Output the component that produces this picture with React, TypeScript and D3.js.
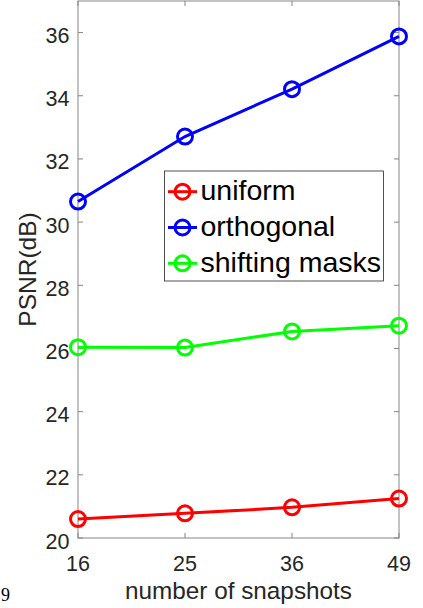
import React from "react";
import * as d3 from "d3";

const snapshots = ["16", "25", "36", "49"];
const uniform = [20.6, 20.78, 20.97, 21.25];
const orthogonal = [30.65, 32.71, 34.21, 35.88];
const shiftingMasks = [26.04, 26.03, 26.54, 26.72];
const yTicks = [20, 22, 24, 26, 28, 30, 32, 34, 36];

const seriesNames = ["uniform", "orthogonal", "shifting masks"];
const seriesColors = ["#ff0000", "#0000ff", "#00ff00"];
const seriesValues = [uniform, orthogonal, shiftingMasks];

const W = 423;
const H = 608;
const left = 78;
const right = 399;
const top = 1;
const bottom = 538;
const font = "'Liberation Sans', Arial, Helvetica, sans-serif";

export default function App() {
  const x = d3.scalePoint<string>().domain(snapshots).range([left, right]);
  const y = d3.scaleLinear().domain([20, 37]).range([bottom, top]);
  const line = d3
    .line<number>()
    .x((_, i) => x(snapshots[i]) as number)
    .y((v) => y(v));

  const axisColor = "#858585";
  const tickLen = 5;

  return (
    <svg
      width={W}
      height={H}
      style={{ position: "absolute", left: 0, top: 0, background: "#fff" }}
    >
      <rect x={0} y={0} width={W} height={H} fill="#fff" />

      {/* ticks on all four sides, pointing inward */}
      {yTicks.map((t) => (
        <g key={"y" + t}>
          <line x1={left} x2={left + tickLen} y1={y(t)} y2={y(t)} stroke={axisColor} />
          <line x1={right} x2={right - tickLen} y1={y(t)} y2={y(t)} stroke={axisColor} />
          <text
            x={69.5}
            y={y(t) + 10.5}
            textAnchor="end"
            fontFamily={font}
            fontSize={21.5}
            fill="#262626"
          >
            {t}
          </text>
        </g>
      ))}
      {snapshots.map((s) => (
        <g key={"x" + s}>
          <line x1={x(s)} x2={x(s)} y1={bottom} y2={bottom - tickLen} stroke={axisColor} />
          <line x1={x(s)} x2={x(s)} y1={top} y2={top + tickLen} stroke={axisColor} />
          <text
            x={x(s)}
            y={570.5}
            textAnchor="middle"
            fontFamily={font}
            fontSize={21.5}
            fill="#262626"
          >
            {s}
          </text>
        </g>
      ))}

      <rect
        x={left}
        y={top}
        width={right - left}
        height={bottom - top}
        fill="none"
        stroke={axisColor}
        strokeWidth={1}
      />

      {seriesValues.map((vals, k) => (
        <g key={seriesNames[k]}>
          <path d={line(vals) || ""} fill="none" stroke={seriesColors[k]} strokeWidth={3} />
          {vals.map((v, i) => (
            <circle
              key={i}
              cx={x(snapshots[i])}
              cy={y(v)}
              r={7.5}
              fill="none"
              stroke={seriesColors[k]}
              strokeWidth={3}
            />
          ))}
        </g>
      ))}

      {/* legend */}
      <rect x={164.5} y={171} width={219} height={110} fill="#fff" stroke="#262626" strokeWidth={0.8} />
      {seriesNames.map((name, k) => {
        const cy = 191.7 + k * 35.8;
        return (
          <g key={"leg" + name}>
            <line x1={168} x2={197} y1={cy} y2={cy} stroke={seriesColors[k]} strokeWidth={3} />
            <circle cx={182.5} cy={cy} r={7.5} fill="none" stroke={seriesColors[k]} strokeWidth={3} />
            <text x={200.5} y={cy + 8.5} fontFamily={font} fontSize={28.5} fill="#000">
              {name}
            </text>
          </g>
        );
      })}

      <text
        x={(left + right) / 2}
        y={599}
        textAnchor="middle"
        fontFamily={font}
        fontSize={24.3}
        fill="#262626"
      >
        number of snapshots
      </text>
      <text
        transform={`translate(35.5,${(top + bottom) / 2}) rotate(-90)`}
        textAnchor="middle"
        fontFamily={font}
        fontSize={24.5}
        fill="#262626"
      >
        PSNR(dB)
      </text>

      <text x={1} y={601} fontFamily="'Liberation Serif', 'Times New Roman', serif" fontSize={18} fill="#000">
        9
      </text>
    </svg>
  );
}
